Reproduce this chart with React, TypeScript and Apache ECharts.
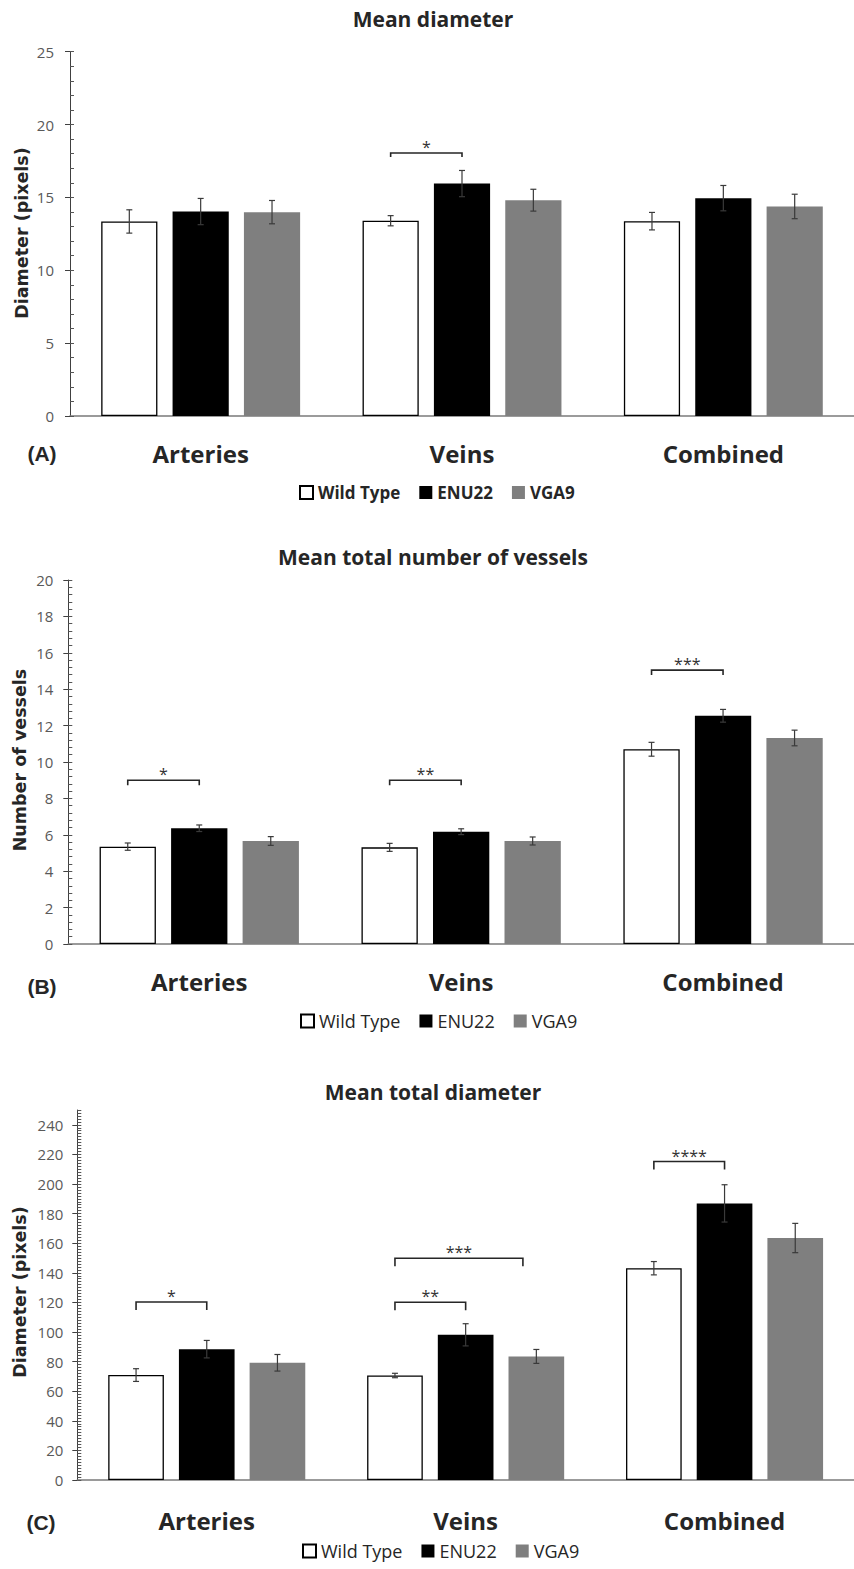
import React, { useEffect, useRef } from 'react';
import * as echarts from 'echarts';

const categories = ['Arteries', 'Veins', 'Combined'];
const groups = ['Wild Type', 'ENU22', 'VGA9'];

// Panel A: Mean diameter
const aWildType = [13.35, 13.4, 13.37];
const aENU22 = [14.03, 15.95, 14.95];
const aVGA9 = [13.99, 14.81, 14.38];
const aWildTypeErr = [0.8, 0.35, 0.6];
const aENU22Err = [0.9, 0.9, 0.87];
const aVGA9Err = [0.8, 0.75, 0.84];
const aBrackets = [{ category: 1, from: 0, to: 1, y: 18.05, stars: '*' }];

// Panel B: Mean total number of vessels
const bWildType = [5.35, 5.31, 10.7];
const bENU22 = [6.36, 6.17, 12.54];
const bVGA9 = [5.66, 5.66, 11.32];
const bWildTypeErr = [0.2, 0.22, 0.38];
const bENU22Err = [0.18, 0.16, 0.35];
const bVGA9Err = [0.24, 0.22, 0.43];
const bBrackets = [
  { category: 0, from: 0, to: 1, y: 9.0, stars: '*' },
  { category: 1, from: 0, to: 1, y: 9.0, stars: '**' },
  { category: 2, from: 0, to: 1, y: 15.05, stars: '***' },
];

// Panel C: Mean total diameter
const cWildType = [70.9, 70.6, 143.1];
const cENU22 = [88.4, 98.1, 186.9];
const cVGA9 = [79.2, 83.5, 163.5];
const cWildTypeErr = [4.3, 1.5, 4.5];
const cENU22Err = [5.9, 7.5, 12.6];
const cVGA9Err = [5.6, 4.7, 9.9];
const cBrackets = [
  { category: 0, from: 0, to: 1, y: 120.3, stars: '*' },
  { category: 1, from: 0, to: 1, y: 120.1, stars: '**' },
  { category: 1, from: 0, to: 1.81, y: 149.8, stars: '***' },
  { category: 2, from: 0, to: 1, y: 215.2, stars: '****' },
];
const cTickLabels = [0, 20, 40, 60, 80, 100, 120, 140, 160, 180, 200, 220, 240];

const BAR_W = 0.215;
const BAR_GAP = 0.27;
const FONT = "'Open Sans', sans-serif";
const DARK = '#262626';

function barOffset(pos: number, band: number) {
  return (pos - 1) * band * BAR_W * (1 + BAR_GAP);
}

function errorSeries(panel: number, means: number[][], errs: number[][]) {
  const data: number[][] = [];
  means.forEach((arr, g) => arr.forEach((m, c) => data.push([c, m, errs[g][c], g])));
  return {
    type: 'custom',
    xAxisIndex: panel,
    yAxisIndex: panel * 2,
    z: 5,
    silent: true,
    encode: { x: 0, y: 1 },
    data,
    renderItem: (params: any, api: any) => {
      const cat = api.value(0);
      const mean = api.value(1);
      const err = api.value(2);
      const g = api.value(3);
      const band = api.size([1, 0])[0];
      const x = api.coord([cat, mean])[0] + barOffset(g, band);
      const top = api.coord([cat, mean + err])[1];
      const bot = api.coord([cat, mean - err])[1];
      const st = { stroke: '#3a3a3a', lineWidth: 1.2 };
      return {
        type: 'group',
        children: [
          { type: 'line', shape: { x1: x, y1: top, x2: x, y2: bot }, style: st },
          { type: 'line', shape: { x1: x - 3, y1: top, x2: x + 3, y2: top }, style: st },
          { type: 'line', shape: { x1: x - 3, y1: bot, x2: x + 3, y2: bot }, style: st },
        ],
      };
    },
  };
}

function bracketSeries(panel: number, brackets: any[], leg: number) {
  return {
    type: 'custom',
    xAxisIndex: panel,
    yAxisIndex: panel * 2,
    z: 6,
    silent: true,
    encode: { x: 0, y: 1 },
    data: brackets.map((b) => [b.category, b.y]),
    renderItem: (params: any, api: any) => {
      const b = brackets[params.dataIndex];
      const band = api.size([1, 0])[0];
      const p = api.coord([b.category, b.y]);
      const x1 = p[0] + barOffset(b.from, band);
      const x2 = p[0] + barOffset(b.to, band);
      const y = p[1];
      const st = { stroke: DARK, lineWidth: 1.6, fill: 'none' };
      return {
        type: 'group',
        children: [
          { type: 'polyline', shape: { points: [[x1, y + leg], [x1, y], [x2, y], [x2, y + leg]] }, style: st },
          {
            type: 'text',
            x: (x1 + x2) / 2,
            y: y - 6,
            style: { text: b.stars, fontSize: 16, fontFamily: FONT, fill: '#333', align: 'center', verticalAlign: 'middle' },
          },
        ],
      };
    },
  };
}

function barSeries(panel: number, values: number[][]) {
  const styles = [
    { color: '#ffffff', borderColor: '#000000', borderWidth: 1.3 },
    { color: '#000000' },
    { color: '#7f7f7f' },
  ];
  return values.map((vals, g) => ({
    type: 'bar',
    name: groups[g],
    xAxisIndex: panel,
    yAxisIndex: panel * 2,
    data: vals,
    barWidth: BAR_W * 100 + '%',
    barGap: BAR_GAP * 100 + '%',
    itemStyle: styles[g],
    silent: true,
  }));
}

function xAxis(panel: number, margin: number) {
  return {
    type: 'category',
    gridIndex: panel,
    data: categories,
    axisLine: { lineStyle: { color: '#7a7a7a', width: 1.5 } },
    axisTick: { show: false },
    axisLabel: { margin, fontSize: 24, fontWeight: 'bold', fontFamily: FONT, color: DARK },
  };
}

function yAxes(panel: number, max: number, interval: number, minor: number, labelMargin: number, custom?: number[]) {
  const main: any = {
    type: 'value',
    gridIndex: panel,
    position: 'left',
    min: 0,
    max,
    interval,
    axisLine: { show: true, lineStyle: { color: '#404040', width: 1 } },
    axisTick: { show: true, length: 5, lineStyle: { color: '#404040' } },
    axisLabel: { margin: labelMargin, fontSize: 15, fontFamily: FONT, color: '#595959' },
    splitLine: { show: false },
  };
  if (custom) {
    main.axisLabel.customValues = custom;
    main.axisTick.customValues = custom;
  }
  const minorAxis = {
    type: 'value',
    gridIndex: panel,
    position: 'left',
    offset: 0,
    min: 0,
    max,
    interval: minor,
    axisLine: { show: false },
    axisTick: { show: true, inside: true, length: 4, lineStyle: { color: '#555555' } },
    axisLabel: { show: false },
    splitLine: { show: false },
  };
  return [main, minorAxis];
}

function legend(top: number, left: number, bold: boolean) {
  return {
    data: groups,
    top,
    left,
    orient: 'horizontal',
    itemWidth: 13,
    itemHeight: 13,
    itemGap: 19,
    selectedMode: false,
    icon: 'rect',
    textStyle: { fontSize: bold ? 17 : 18, fontWeight: bold ? 'bold' : 'normal', fontFamily: FONT, color: DARK },
  };
}

function text(x: number, y: number, t: string, size: number, weight: string, family: string, rotation = 0) {
  return {
    type: 'text',
    x,
    y,
    rotation,
    style: { text: t, fontSize: size, fontWeight: weight, fontFamily: family, fill: DARK, align: 'center', verticalAlign: 'middle' },
  };
}

export default function App() {
  const ref = useRef<HTMLDivElement>(null);
  useEffect(() => {
    if (!ref.current) return;
    const chart = echarts.init(ref.current, undefined, { renderer: 'svg' });
    const YFONT = "'DejaVu Sans', sans-serif";
    const PFONT = "'Liberation Sans', Arial, sans-serif";
    const option: any = {
      animation: false,
      backgroundColor: '#ffffff',
      grid: [
        { left: 70, top: 51.7, width: 795, height: 364.3 },
        { left: 68.3, top: 580, width: 796.5, height: 364 },
        { left: 77.3, top: 1110, width: 786, height: 370 },
      ],
      xAxis: [xAxis(0, 25), xAxis(1, 25), xAxis(2, 28)],
      yAxis: [
        ...yAxes(0, 25, 5, 1, 16),
        ...yAxes(1, 20, 2, 0.4, 15),
        ...yAxes(2, 250, 20, 2, 14, cTickLabels),
      ],
      legend: [legend(479, 294, true), legend(1007, 295, false), legend(1537, 297, false)],
      series: [
        ...barSeries(0, [aWildType, aENU22, aVGA9]),
        errorSeries(0, [aWildType, aENU22, aVGA9], [aWildTypeErr, aENU22Err, aVGA9Err]),
        bracketSeries(0, aBrackets, 4),
        ...barSeries(1, [bWildType, bENU22, bVGA9]),
        errorSeries(1, [bWildType, bENU22, bVGA9], [bWildTypeErr, bENU22Err, bVGA9Err]),
        bracketSeries(1, bBrackets, 5),
        ...barSeries(2, [cWildType, cENU22, cVGA9]),
        errorSeries(2, [cWildType, cENU22, cVGA9], [cWildTypeErr, cENU22Err, cVGA9Err]),
        bracketSeries(2, cBrackets, 8),
      ],
      graphic: [
        text(433, 19, 'Mean diameter', 21, 'bold', FONT),
        text(433, 556.5, 'Mean total number of vessels', 21, 'bold', FONT),
        text(433, 1091.5, 'Mean total diameter', 21, 'bold', FONT),
        text(21.5, 233, 'Diameter (pixels)', 17.5, 'bold', YFONT, Math.PI / 2),
        text(19.5, 760, 'Number of vessels', 17.5, 'bold', YFONT, Math.PI / 2),
        text(20, 1292, 'Diameter (pixels)', 17.5, 'bold', YFONT, Math.PI / 2),
        text(42, 453.5, '(A)', 21, 'bold', PFONT),
        text(42, 986, '(B)', 21, 'bold', PFONT),
        text(41, 1522, '(C)', 21, 'bold', PFONT),
      ],
    };
    chart.setOption(option);
    return () => chart.dispose();
  }, []);
  return <div ref={ref} style={{ position: 'absolute', left: 0, top: 0, width: 854, height: 1569 }} />;
}
